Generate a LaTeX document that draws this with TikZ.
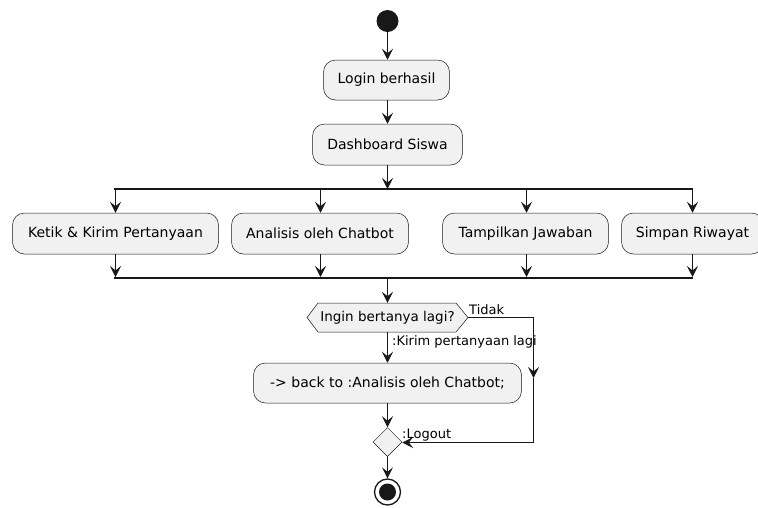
\documentclass[tikz,border=0pt]{standalone}
\usepackage{fontspec}
\setmainfont{DejaVu Sans}
\usetikzlibrary{arrows.meta,shapes.geometric}
\definecolor{boxfill}{HTML}{F1F1F1}
\definecolor{ink}{HTML}{181818}
\begin{document}
\begin{tikzpicture}[x=1pt,y=-1pt,
  act/.style={draw=ink, line width=0.5pt, fill=boxfill, rounded corners=12pt, inner sep=0pt, font=\fontsize{14}{16}\selectfont, text=black, align=center},
  flow/.style={draw=ink, line width=1pt, -{Stealth[length=11pt,width=11pt,inset=4.5pt]}},
  bar/.style={draw=ink, line width=2pt},
  lbl/.style={font=\fontsize{13}{15}\selectfont, inner sep=0pt, text=black}]
\useasboundingbox (0,0) rectangle (758,507);

% start
\node[circle, fill=ink, minimum size=22pt, inner sep=0pt] (start) at (387.5,21) {};
\node[act, minimum width=126pt, minimum height=40pt] (login) at (386.5,80) {Login berhasil};
\node[act, minimum width=150pt, minimum height=41pt] (dash) at (387.5,144.5) {Dashboard Siswa};

% fork bar
\coordinate (fk) at (387.5,189);
\coordinate (fkL) at (114,189);
\coordinate (fkR) at (693,189);
\draw[bar] (fkL) -- (fkR);

\node[act, minimum width=206pt, minimum height=41pt] (ketik) at (115.5,233.5) {Ketik \& Kirim Pertanyaan};
\node[act, minimum width=177pt, minimum height=41pt] (anal) at (320,233.5) {Analisis oleh Chatbot};
\node[act, minimum width=166pt, minimum height=41pt] (tamp) at (525.5,233.5) {Tampilkan Jawaban};
\node[act, minimum width=142pt, minimum height=41pt] (simp) at (692.5,233.5) {Simpan Riwayat};

\coordinate (f1) at (115.5,189);
\coordinate (f2) at (320.5,189);
\coordinate (f3) at (526.5,189);
\coordinate (f4) at (692.5,189);

% join bar
\coordinate (jn) at (387.5,278);
\coordinate (jnL) at (114,278);
\coordinate (jnR) at (693,278);
\draw[bar] (jnL) -- (jnR);
\coordinate (j1) at (115.5,277);
\coordinate (j2) at (320.5,277);
\coordinate (j3) at (526.5,277);
\coordinate (j4) at (692.5,277);

% decision hexagon
\coordinate (hL) at (307,317.5);
\coordinate (hTL) at (318,303);
\coordinate (hTR) at (456,303);
\coordinate (hR) at (468,317.5);
\coordinate (hBR) at (456,332);
\coordinate (hBL) at (318,332);
\draw[draw=ink, line width=0.5pt, fill=boxfill] (hL) -- (hTL) -- (hTR) -- (hR) -- (hBR) -- (hBL) -- cycle;
\node[inner sep=0pt, minimum width=138pt, minimum height=29pt, font=\fontsize{13.5}{15}\selectfont] (dec) at (387.5,317.5) {Ingin bertanya lagi?};

\node[lbl, anchor=base west] (tidak) at (469,314) {Tidak};
\node[lbl, anchor=base west] (kirim) at (392,345) {:Kirim pertanyaan lagi};

\node[act, minimum width=268pt, minimum height=40pt] (back) at (387.5,383) {-> back to :Analisis oleh Chatbot;};

\node[diamond, draw=ink, line width=0.5pt, fill=boxfill, minimum width=29pt, minimum height=29pt, inner sep=0pt] (dia) at (387.5,442) {};
\node[lbl, anchor=base west] (logout) at (402,438) {:Logout};

\node[circle, draw=ink, line width=1.3pt, fill=white, minimum size=26pt, inner sep=0pt] (endo) at (387.5,492) {};
\node[circle, fill=ink, minimum size=17pt, inner sep=0pt] (endi) at (387.5,492) {};

% connectors
\draw[flow] (start) -- (login.north -| start);
\draw[flow] (login.south -| start) -- (dash);
\draw[flow] (dash) -- (fk);
\draw[flow] (f1) -- (ketik.north -| f1);
\draw[flow] (f2) -- (anal.north -| f2);
\draw[flow] (f3) -- (tamp.north -| f3);
\draw[flow] (f4) -- (simp.north -| f4);
\draw[flow] (ketik.south -| j1) -- (j1);
\draw[flow] (anal.south -| j2) -- (j2);
\draw[flow] (tamp.south -| j3) -- (j3);
\draw[flow] (simp.south -| j4) -- (j4);
\draw[flow] (jn) -- (dec.north);
\draw[flow] (dec.south) -- (back);
\coordinate (tc1) at (533.5,317.5);
\coordinate (tm) at (533.5,378);
\coordinate (tc2) at (533.5,442.5);
\draw[flow] (hR) -- (tc1) -- (tm);
\draw[flow] (tm) -- (tc2) -- (dia.east |- tc2);
\draw[flow] (back) -- (dia);
\draw[flow] (dia) -- (endo);
\end{tikzpicture}
\end{document}
